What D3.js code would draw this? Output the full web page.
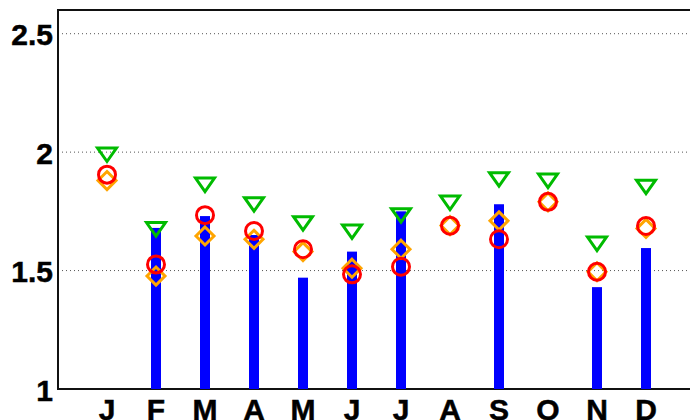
<!DOCTYPE html>
<html>
<head>
<meta charset="utf-8">
<script src="https://cdn.jsdelivr.net/npm/d3@7"></script>
<style>
  body { margin: 0; background: #fff; }
  .tick-label { font-family: "Liberation Sans", Arial, sans-serif; font-weight: bold; font-size: 30px; fill: #000; stroke: #000; stroke-width: 0.5px; }
</style>
</head>
<body>
<div class="container"></div>
<script>
// month labels and values
let months = ["J", "F", "M", "A", "M", "J", "J", "A", "S", "O", "N", "D"];
let barVals = [null, 1.68, 1.73, 1.65, 1.47, 1.58, 1.75, null, 1.78, null, 1.43, 1.595];
let triVals = [1.99, 1.675, 1.863, 1.78, 1.70, 1.665, 1.734, 1.787, 1.886, 1.88, 1.614, 1.854];
let circVals = [1.905, 1.526, 1.734, 1.667, 1.59, 1.484, 1.516, 1.689, 1.632, 1.79, 1.495, 1.688];
let diaVals = [1.88, 1.477, 1.646, 1.632, 1.58, 1.51, 1.59, 1.69, 1.71, 1.79, 1.495, 1.678];
let yTicks = [1, 1.5, 2, 2.5];

let margin = {top: 10, right: 0, bottom: 31, left: 58},
  width = 690 - margin.left - margin.right,
  height = 420 - margin.top - margin.bottom;

let x = d3.scaleLinear().domain([0, 13]).range([0, 637]);
let y = d3.scaleLinear().domain([1, 2.6]).range([height, 0]);

let svg = d3.select(".container").append("svg")
    .attr("width", 690)
    .attr("height", 420)
  .append("g")
    .attr("transform", "translate(" + margin.left + "," + margin.top + ")");

// dotted grid
svg.selectAll(".grid")
  .data(yTicks.filter((d) => d > 1))
  .enter().append("line")
    .attr("x1", 0)
    .attr("x2", width)
    .attr("y1", (d) => y(d))
    .attr("y2", (d) => y(d))
    .attr("stroke", "#555")
    .attr("stroke-width", 1)
    .attr("stroke-dasharray", "1,3");

// axes lines (left, bottom, top)
svg.append("path")
  .attr("d", "M" + width + ",0H0V" + height + "H" + width)
  .attr("fill", "none")
  .attr("stroke", "#111")
  .attr("stroke-width", 2);

// y labels
svg.selectAll(".ylab")
  .data(yTicks)
  .enter().append("text")
    .attr("class", "tick-label")
    .attr("text-anchor", "end")
    .attr("x", -5)
    .attr("y", (d) => y(d) + 11.5)
    .text((d) => d);

// x labels
svg.selectAll(".xlab")
  .data(months)
  .enter().append("text")
    .attr("class", "tick-label")
    .attr("text-anchor", "middle")
    .attr("x", (d, i) => x(i + 1))
    .attr("y", height + 31)
    .text((d) => d);

// blue bars
let bars = barVals.map((v, i) => ({m: i + 1, v: v})).filter((d) => d.v != null);
svg.selectAll(".bar")
  .data(bars)
  .enter().append("rect")
    .attr("x", (d) => x(d.m) - 5)
    .attr("width", 10)
    .attr("y", (d) => y(d.v))
    .attr("height", (d) => height - y(d.v))
    .attr("fill", "#0000ff");

// orange diamonds
svg.selectAll(".dia")
  .data(diaVals)
  .enter().append("path")
    .attr("d", "M0,-9L9,0L0,9L-9,0Z")
    .attr("transform", (d, i) => "translate(" + x(i + 1) + "," + y(d) + ")")
    .attr("fill", "none")
    .attr("stroke", "#ffa500")
    .attr("stroke-width", 3);

// red circles
svg.selectAll(".circ")
  .data(circVals)
  .enter().append("circle")
    .attr("cx", (d, i) => x(i + 1))
    .attr("cy", (d) => y(d))
    .attr("r", 8.5)
    .attr("fill", "none")
    .attr("stroke", "#ff0000")
    .attr("stroke-width", 3);

// green triangles
svg.selectAll(".tri")
  .data(triVals)
  .enter().append("path")
    .attr("d", "M-9.5,-6.5L9.5,-6.5L0,7Z")
    .attr("transform", (d, i) => "translate(" + x(i + 1) + "," + y(d) + ")")
    .attr("fill", "none")
    .attr("stroke", "#00bb00")
    .attr("stroke-width", 3);
</script>
</body>
</html>
